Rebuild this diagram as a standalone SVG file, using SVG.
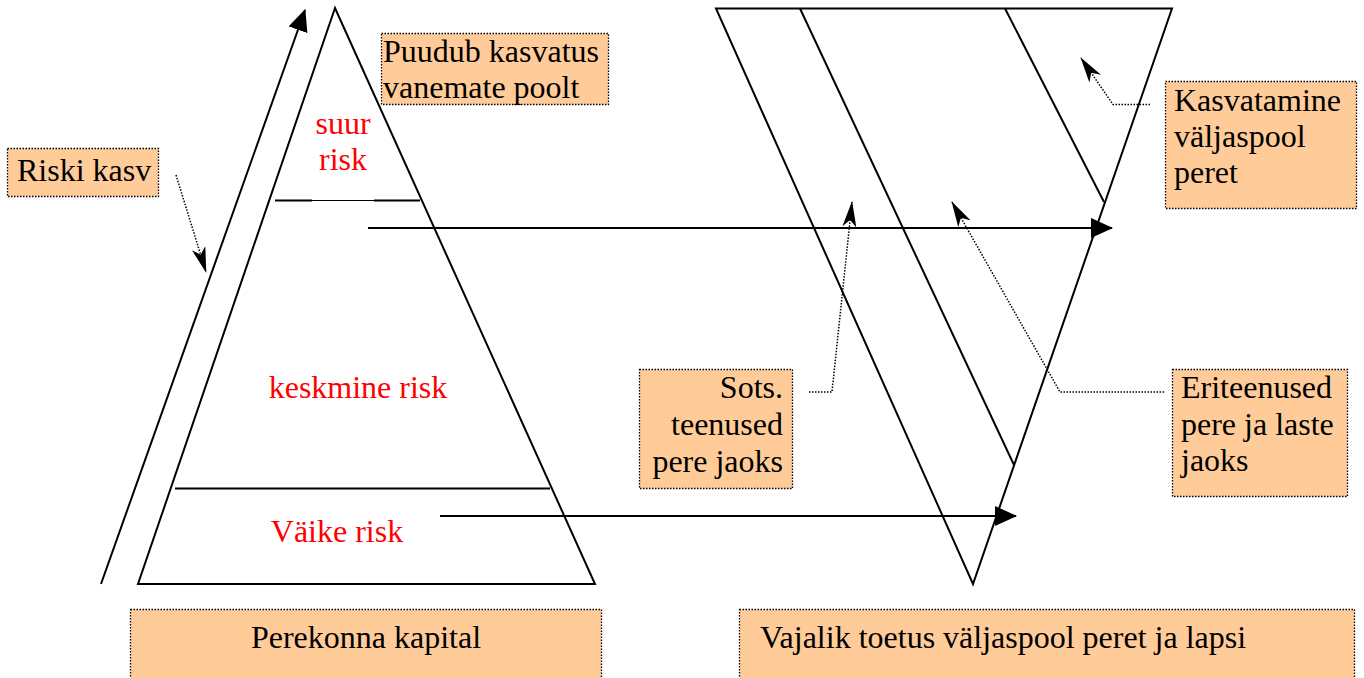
<svg xmlns="http://www.w3.org/2000/svg" width="1364" height="678" viewBox="0 0 1364 678">
<style>
.ln{stroke:#000;stroke-width:2;fill:none}
.dot{stroke:#000;stroke-width:1.5;stroke-dasharray:1.5 1.5;fill:none}
.box{fill:#FFCC99;stroke:#000;stroke-width:1.3;stroke-dasharray:1.5 1.5}
.t{font-family:"Liberation Serif","Times New Roman",serif;font-size:32px;fill:#000}
.r{fill:#FF0000}
</style>
<defs>
<marker id="tri" markerUnits="userSpaceOnUse" markerWidth="22" markerHeight="20" refX="21" refY="10" orient="auto" viewBox="0 0 22 20"><path d="M0,0 L22,10 L0,20 z" fill="#000"/></marker>
<marker id="stl" markerUnits="userSpaceOnUse" markerWidth="26" markerHeight="14" refX="25" refY="7" orient="auto" viewBox="0 0 26 14"><path d="M0,0 L26,7 L0,14 L7,7 z" fill="#000"/></marker>
</defs>
<rect width="1364" height="678" fill="#fff"/>
<g id="pyramid">
<path class="ln" d="M335,8 L138,584 L595,584 Z"/>
<line class="ln" x1="275" y1="200.5" x2="312" y2="200.5"/>
<line x1="312" y1="200.5" x2="374" y2="200.5" stroke="#000" stroke-width="1"/>
<line class="ln" x1="374" y1="200.5" x2="420" y2="200.5"/>
<line class="ln" x1="175" y1="488.5" x2="550" y2="488.5"/>
<text class="t r" x="343" y="134" text-anchor="middle">suur</text>
<text class="t r" x="343" y="170" text-anchor="middle">risk</text>
<text class="t r" x="358" y="398" text-anchor="middle">keskmine risk</text>
<text class="t r" x="337" y="542" text-anchor="middle">Väike risk</text>
</g>
<g id="funnel">
<path class="ln" d="M716,8.5 L1172,8.5 L973,584 Z"/>
<line class="ln" x1="800" y1="8.5" x2="1014" y2="465"/>
<line class="ln" x1="1005" y1="8.5" x2="1104" y2="202"/>
</g>
<g id="connectors">
<line class="ln" x1="101" y1="584" x2="305" y2="10" marker-end="url(#tri)"/>
<line class="ln" x1="368" y1="228" x2="1112" y2="228" marker-end="url(#tri)"/>
<line class="ln" x1="440" y1="516" x2="1016" y2="516" marker-end="url(#tri)"/>
<path class="dot" d="M176,175 L206,272" marker-end="url(#stl)"/>
<path class="dot" d="M809,392 L832,392 L852,202" marker-end="url(#stl)"/>
<path class="dot" d="M1164,392 L1060,392 L952,202" marker-end="url(#stl)"/>
<path class="dot" d="M1150,104.5 L1113,104.5 L1081,58" marker-end="url(#stl)"/>
</g>
<g id="riski-kasv">
<rect class="box" x="7.5" y="148.5" width="151" height="48"/>
<text class="t" x="17" y="181">Riski kasv</text>
</g>
<g id="puudub">
<rect class="box" x="381.5" y="33.5" width="227" height="71"/>
<text class="t" x="383" y="62">Puudub kasvatus</text>
<text class="t" x="383" y="98">vanemate poolt</text>
</g>
<g id="kasvatamine">
<rect class="box" x="1165.5" y="81.5" width="191" height="127"/>
<text class="t" x="1174" y="111">Kasvatamine</text>
<text class="t" x="1174" y="147">väljaspool</text>
<text class="t" x="1174" y="183">peret</text>
</g>
<g id="sots">
<rect class="box" x="639.5" y="369.5" width="153" height="119"/>
<text class="t" x="783" y="398" text-anchor="end">Sots.</text>
<text class="t" x="783" y="435" text-anchor="end">teenused</text>
<text class="t" x="783" y="472" text-anchor="end">pere jaoks</text>
</g>
<g id="eriteenused">
<rect class="box" x="1172.5" y="369.5" width="175" height="127"/>
<text class="t" x="1181" y="398">Eriteenused</text>
<text class="t" x="1181" y="435">pere ja laste</text>
<text class="t" x="1181" y="471">jaoks</text>
</g>
<g id="perekonna-kapital">
<rect class="box" x="130.5" y="609.5" width="471" height="80"/>
<text class="t" x="366" y="648" text-anchor="middle">Perekonna kapital</text>
</g>
<g id="vajalik-toetus">
<rect class="box" x="739.5" y="609.5" width="615" height="80"/>
<text class="t" x="760" y="648">Vajalik toetus väljaspool peret ja lapsi</text>
</g>
</svg>
